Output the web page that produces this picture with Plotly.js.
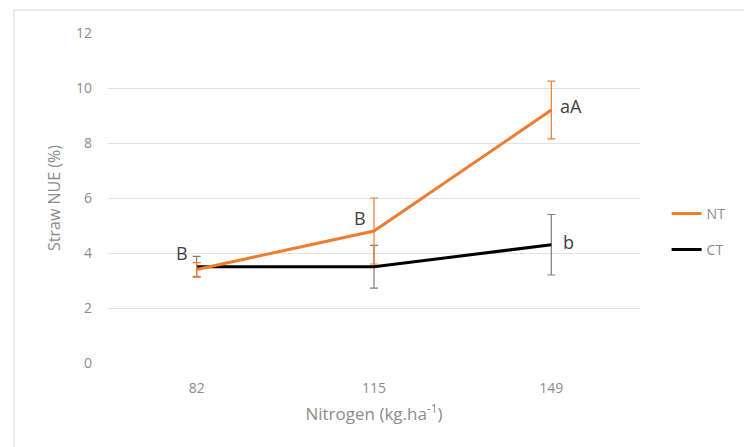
<!DOCTYPE html>
<html><head><meta charset="utf-8">
<script src="https://cdn.plot.ly/plotly-3.0.1.min.js"></script>
<style>html,body{margin:0;padding:0;background:#fff}#c{width:744px;height:447px}</style>
</head><body><div id="c"></div>
<script>
const categories = ['82', '115', '149'];
const ntValues = [3.4, 4.8, 9.2];
const ntErrors = [0.25, 1.2, 1.05];
const ctValues = [3.5, 3.5, 4.3];
const ctErrors = [0.38, 0.78, 1.1];
const ntLabels = ['B', 'B', 'aA'];
const ctLabels = ['', '', 'b'];
const yTicks = [0, 2, 4, 6, 8, 10, 12];

const traces = [
  {x: categories, y: ctValues, name: 'CT', type: 'scatter', mode: 'lines',
   line: {color: '#000000', width: 3},
   error_y: {type: 'data', array: ctErrors, visible: true, color: '#7f7f7f', thickness: 1.2, width: 4},
   legend: 'legend2'},
  {x: categories, y: ntValues, name: 'NT', type: 'scatter', mode: 'lines',
   line: {color: '#ED7D31', width: 3},
   error_y: {type: 'data', array: ntErrors, visible: true, color: '#ED7D31', thickness: 1.2, width: 4},
   legend: 'legend'}
];

const labelFont = {family: 'Open Sans, sans-serif', size: 18, color: '#404040'};
const ann = [];
const ntOff = [[-7, 17, 'right'], [-6, 13, 'right'], [7, 4, 'left']];
ntLabels.forEach((t, i) => { if (t) ann.push({xref: 'x', yref: 'y', x: i, y: ntValues[i], text: t, showarrow: false,
  xanchor: ntOff[i][2], xshift: ntOff[i][0], yshift: ntOff[i][1], font: labelFont}); });
ctLabels.forEach((t, i) => { if (t) ann.push({xref: 'x', yref: 'y', x: i, y: ctValues[i], text: t, showarrow: false,
  xanchor: 'left', xshift: 10, yshift: 3, font: labelFont}); });

const legendCommon = {xanchor: 'left', yanchor: 'middle', bgcolor: 'rgba(0,0,0,0)',
  font: {family: 'Open Sans, sans-serif', size: 14, color: '#8c8c8c'}};

const layout = {
  width: 744, height: 447,
  margin: {l: 108, r: 104, t: 33, b: 84},
  paper_bgcolor: '#ffffff', plot_bgcolor: '#ffffff',
  font: {family: 'Open Sans, sans-serif', color: '#8c8c8c'},
  xaxis: {type: 'category', range: [-0.5, 2.5], showgrid: false, zeroline: false, showline: false,
    ticks: '', ticklabelstandoff: 15, tickfont: {size: 14, color: '#8c8c8c'},
    title: {text: 'Nitrogen (kg.ha<sup>-1</sup>)', font: {size: 17, color: '#8c8c8c'}, standoff: 12}},
  yaxis: {range: [0, 12], tickvals: yTicks, ticktext: yTicks.map(String), showgrid: true, gridcolor: '#e3e3e3', gridwidth: 1,
    zeroline: false, showline: false, ticks: '', ticklabelstandoff: 15, tickfont: {size: 14, color: '#8c8c8c'},
    title: {text: 'Straw NUE (%)', font: {size: 16, color: '#8c8c8c'}, standoff: 11}},
  showlegend: true,
  legend: Object.assign({x: 1.05, y: (363 - 214) / 330}, legendCommon),
  legend2: Object.assign({x: 1.05, y: (363 - 250) / 330}, legendCommon),
  annotations: ann,
  shapes: [{type: 'rect', xref: 'paper', yref: 'paper', x0: -0.1767, x1: 1.3, y0: -0.4, y1: 1.0697,
    line: {color: '#e6e6e6', width: 1.5}, fillcolor: 'rgba(0,0,0,0)', layer: 'below'}]
};

Plotly.newPlot('c', traces, layout, {displayModeBar: false, staticPlot: true});
</script></body></html>
